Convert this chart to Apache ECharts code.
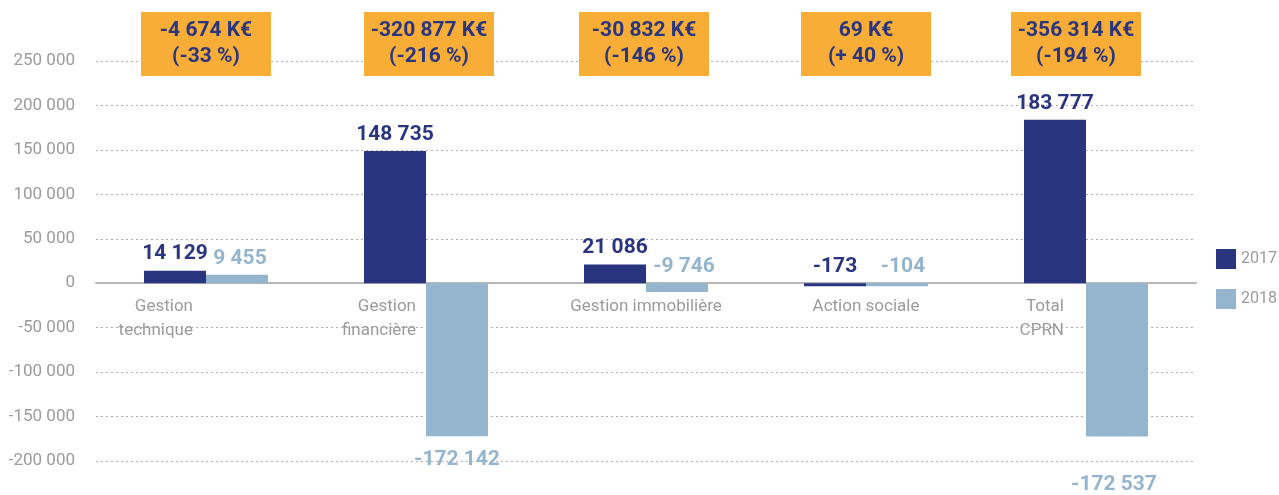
<!DOCTYPE html>
<html>
<head>
<meta charset="utf-8">
<script src="https://cdn.jsdelivr.net/npm/echarts@6/dist/echarts.min.js"></script>
<style>
  html, body { margin: 0; padding: 0; background: #ffffff; }
  #chart { width: 1279px; height: 495px; }
</style>
</head>
<body>
<div id="chart"></div>
<script>
// ---- Data ----
const categories = ['Gestion\ntechnique', 'Gestion\nfinancière', 'Gestion immobilière', 'Action sociale', 'Total\nCPRN'];
const seriesNames = ['2017', '2018'];
const values2017 = [14129, 148735, 21086, -173, 183777];
const values2018 = [9455, -172142, -9746, -104, -172537];
const diffLabels = ['-4 674 K€\n(-33 %)', '-320 877 K€\n(-216 %)', '-30 832 K€\n(-146 %)', '69 K€\n(+ 40 %)', '-356 314 K€\n(-194 %)'];
const yTicks = { min: -200000, max: 250000, interval: 50000 };

// ---- Styles ----
const FONT = "Roboto, 'Liberation Sans', sans-serif";
const DARK = '#29357f';
const LIGHT = '#95b5cf';
const ORANGE = '#f7ad36';
const GREY = '#9b9b9b';

function fmt(v) {
  const s = Math.abs(v).toString().replace(/\B(?=(\d{3})+(?!\d))/g, ' ');
  return (v < 0 ? '-' : '') + s;
}

// category label placement (multi-line labels are right aligned in the reference)
const catLabelStyle = [
  { align: 'right', offset: [-13, 0] },
  { align: 'right', offset: [-10, 0] },
  { align: 'center', offset: [0, 0] },
  { align: 'center', offset: [0, 0] },
  { align: 'right', offset: [-22, 0] }
];
const boxShift = [0, 3, -2, 0, -10];
const negDist2018 = [12, 13, 6, 6, 38];
const labelShift2018 = [3, 0, 7, 6, -3];

function barLabel(v, far, dist) {
  if (v >= 0) return { position: 'top', distance: 6 };
  if (far) return { position: 'bottom', distance: dist };
  return { position: 'top', distance: 6 };
}

const data2017 = values2017.map(v => ({ value: v, label: barLabel(v, Math.abs(v) > 50000, 12) }));
const data2018 = values2018.map((v, i) => ({
  value: v,
  label: Object.assign(barLabel(v, Math.abs(v) > 50000, negDist2018[i]), { offset: [labelShift2018[i], 0] })
}));

const chart = echarts.init(document.getElementById('chart'), null, { renderer: 'canvas' });

const option = {
  animation: false,
  backgroundColor: '#ffffff',
  textStyle: { fontFamily: FONT },
  grid: { left: 96, right: 83, top: 61, bottom: 34, containLabel: false, outerBoundsMode: 'none' },
  legend: {
    data: seriesNames,
    orient: 'vertical',
    left: 1216,
    top: 249,
    padding: 0,
    itemWidth: 20,
    itemHeight: 20,
    itemGap: 20,
    icon: 'rect',
    textStyle: { color: GREY, fontSize: 16, fontFamily: FONT }
  },
  xAxis: {
    type: 'category',
    data: categories,
    axisLine: { onZero: true, lineStyle: { color: '#b8b8b8', width: 2 } },
    axisTick: { show: false },
    axisLabel: { show: false },
    splitLine: { show: false }
  },
  yAxis: {
    type: 'value',
    min: yTicks.min,
    max: yTicks.max,
    interval: yTicks.interval,
    axisLine: { show: false },
    axisTick: { show: false },
    axisLabel: { color: GREY, fontSize: 17, margin: 21, fontFamily: FONT, formatter: v => fmt(v) },
    splitLine: { lineStyle: { color: '#b0b0b0', type: [2, 3], width: 1 } }
  },
  series: [
    {
      name: '2017',
      type: 'bar',
      data: data2017,
      barWidth: 62,
      barGap: '0%',
      barMinHeight: 3,
      itemStyle: { color: DARK },
      label: { show: true, color: DARK, fontSize: 21, fontWeight: 'bold', fontFamily: FONT, formatter: p => fmt(p.value) }
    },
    {
      name: '2018',
      type: 'bar',
      data: data2018,
      barWidth: 62,
      barGap: '0%',
      barMinHeight: 3,
      itemStyle: { color: LIGHT },
      label: { show: true, color: LIGHT, fontSize: 21, fontWeight: 'bold', fontFamily: FONT, formatter: p => fmt(p.value) }
    },
    {
      name: 'diff',
      type: 'scatter',
      data: diffLabels.map((t, i) => ({ value: [i, yTicks.max], label: { offset: [boxShift[i], -17] } })),
      symbolSize: 0,
      clip: false,
      silent: true,
      z: 5,
      itemStyle: { opacity: 1 },
      label: {
        show: true,
        position: 'inside',
        formatter: p => diffLabels[p.dataIndex],
        backgroundColor: ORANGE,
        color: DARK,
        fontSize: 21,
        fontWeight: 'bold',
        fontFamily: FONT,
        lineHeight: 26,
        width: 130,
        align: 'center',
        verticalAlign: 'middle',
        padding: [6, 0, 6, 0]
      }
    },
    {
      name: 'cats',
      type: 'scatter',
      data: categories.map((c, i) => ({ value: [i, 0], label: catLabelStyle[i] })),
      symbolSize: 0,
      clip: false,
      silent: true,
      itemStyle: { opacity: 1 },
      label: {
        show: true,
        position: 'bottom',
        distance: 12,
        formatter: p => categories[p.dataIndex],
        color: GREY,
        fontSize: 17,
        lineHeight: 24,
        fontFamily: FONT
      }
    }
  ]
};

chart.setOption(option);
</script>
</body>
</html>
